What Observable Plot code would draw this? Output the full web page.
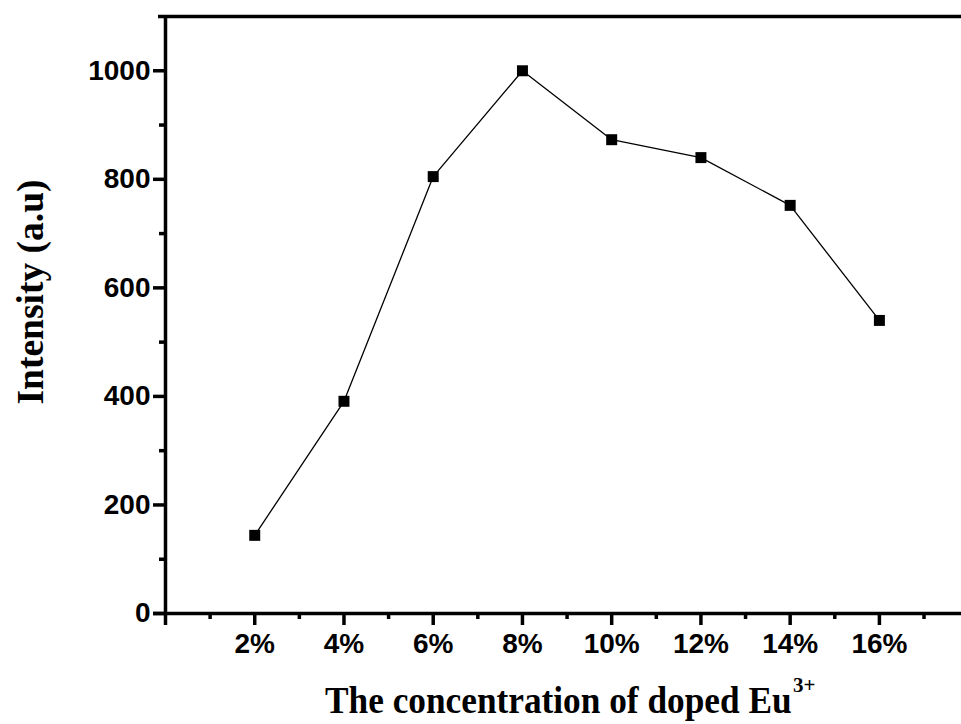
<!DOCTYPE html>
<html>
<head>
<meta charset="utf-8">
<script src="https://cdn.jsdelivr.net/npm/d3@7"></script>
<script src="https://cdn.jsdelivr.net/npm/@observablehq/plot@0.6"></script>
<style>
  html, body { margin: 0; padding: 0; background: #fff; }
  svg { display: block; }
</style>
</head>
<body>
<div id="chart"></div>
<script>
const concentrations = [2, 4, 6, 8, 10, 12, 14, 16];
const intensity = [144, 391, 805, 1000, 873, 840, 752, 540];
const xMajorTicks = [0, 2, 4, 6, 8, 10, 12, 14, 16];
const xMinorTicks = [1, 3, 5, 7, 9, 11, 13, 15, 17];
const yMajorTicks = [0, 200, 400, 600, 800, 1000];
const yMinorTicks = [100, 300, 500, 700, 900];
const xTitle = "The concentration of doped Eu";
const xTitleSup = "3+";
const yTitle = "Intensity (a.u)";

const data = concentrations.map((c, i) => ({c, v: intensity[i]}));

const tickFont = {fontSize: 28, fontWeight: "bold", fontFamily: "Liberation Sans, Arial, sans-serif"};

const plot = Plot.plot({
  width: 961,
  height: 724,
  marginLeft: 165,
  marginRight: 0,
  marginTop: 16,
  marginBottom: 111,
  style: {background: "#fff", color: "#000", overflow: "visible"},
  x: {domain: [0, 17.84]},
  y: {domain: [0, 1100]},
  marks: [
    Plot.axisX(xMajorTicks, {tickSize: 12, tickPadding: 8, strokeWidth: 3.5,
      tickFormat: d => d === 0 ? "" : d + "%", label: null, ...tickFont}),
    Plot.axisX(xMinorTicks, {tickSize: 6, strokeWidth: 3.5, tickFormat: () => "", label: null}),
    Plot.axisY(yMajorTicks, {tickSize: 12, tickPadding: 3, strokeWidth: 3.5,
      tickFormat: d => String(d), label: null, ...tickFont}),
    Plot.axisY(yMinorTicks, {tickSize: 6, strokeWidth: 3.5, tickFormat: () => "", label: null}),
    Plot.ruleX([0], {strokeWidth: 3.5}),
    Plot.ruleY([0], {strokeWidth: 3.5, insetLeft: -12}),
    Plot.ruleY([1100], {strokeWidth: 3.5, insetLeft: -7}),
    Plot.line(data, {x: "c", y: "v", stroke: "#000", strokeWidth: 1.3}),
    Plot.dot(data, {x: "c", y: "v", symbol: "square", r: 6.2, fill: "#000", stroke: "none"})
  ]
});

document.getElementById("chart").appendChild(plot);

const svg = d3.select(plot);
// x axis title
svg.append("text")
  .attr("transform", "translate(325,713) scale(1,1.06)")
  .attr("text-anchor", "start")
  .attr("font-family", "Liberation Serif, Times New Roman, serif")
  .attr("font-weight", "bold")
  .attr("font-size", 35.3)
  .attr("fill", "#000")
  .text(xTitle);
// superscript
svg.append("text")
  .attr("x", 793)
  .attr("y", 692)
  .attr("text-anchor", "start")
  .attr("font-family", "Liberation Serif, Times New Roman, serif")
  .attr("font-weight", "bold")
  .attr("font-size", 21)
  .attr("fill", "#000")
  .text(xTitleSup);

// y axis title
svg.append("text")
  .attr("transform", "translate(43,292) rotate(-90)")
  .attr("text-anchor", "middle")
  .attr("font-family", "Liberation Serif, Times New Roman, serif")
  .attr("font-weight", "bold")
  .attr("font-size", 38)
  .attr("textLength", 225)
  .attr("lengthAdjust", "spacingAndGlyphs")
  .attr("fill", "#000")
  .text(yTitle);
</script>
</body>
</html>
